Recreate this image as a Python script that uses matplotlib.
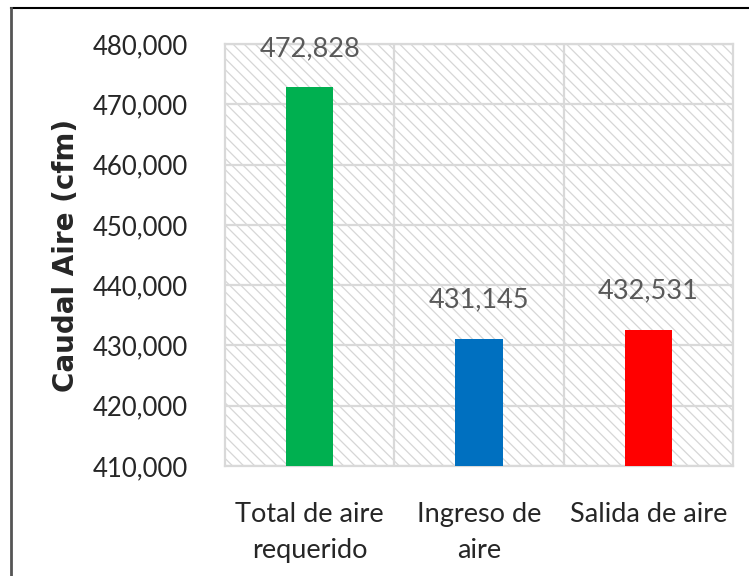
import matplotlib
matplotlib.use("Agg")
import matplotlib.pyplot as plt
from matplotlib.patches import Rectangle
from matplotlib.lines import Line2D
from matplotlib.ticker import FuncFormatter, MultipleLocator

categories = ["Total de aire\nrequerido", "Ingreso de\naire", "Salida de aire"]
values = [472828, 431145, 432531]
colors = ["#00B050", "#0070C0", "#FF0000"]
y_min, y_max, y_step = 410000, 480000, 10000

plt.rcParams["hatch.linewidth"] = 0.9
plt.rcParams["hatch.color"] = "#d6d6d6"

fig = plt.figure(figsize=(7.49, 5.76), dpi=100)
ax = fig.add_axes([225/749, 1-466/576, (733-225)/749, (466-44)/576])

# hatched background
bg = Rectangle((0, 0), 1, 1, transform=ax.transAxes, facecolor="white",
               edgecolor="#d6d6d6", hatch="\\\\\\", linewidth=0, zorder=0)
ax.add_patch(bg)

x = list(range(len(categories)))
ax.bar(x, values, width=0.28, color=colors, zorder=3)

ax.set_xlim(-0.5, len(categories) - 0.5)
ax.set_ylim(y_min, y_max)
ax.yaxis.set_major_locator(MultipleLocator(y_step))
ax.yaxis.set_major_formatter(FuncFormatter(lambda v, p: f"{int(v):,}"))

ax.grid(axis="y", color="#d9d9d9", linewidth=1.6, zorder=1)
for b in [i + 0.5 for i in x[:-1]]:
    ax.axvline(b, color="#d9d9d9", linewidth=1.6, zorder=1)

for s in ax.spines.values():
    s.set_color("#d9d9d9")
    s.set_linewidth(1.6)

ax.set_xticks(x)
ax.set_xticklabels(categories, fontsize=19.5, color="#262626", family="Lato",
                   linespacing=1.55)
ax.tick_params(axis="both", length=0)
ax.tick_params(axis="x", pad=26)
ax.tick_params(axis="y", pad=27)
for lab in ax.get_yticklabels():
    lab.set_fontsize(18.5)
    lab.set_family("Lato")
    lab.set_color("#262626")

for xi, v in zip(x, values):
    ax.annotate(f"{v:,}", (xi, v), xytext=(0, 28), textcoords="offset points",
                ha="center", va="center", fontsize=19.5, color="#595959",
                family="Lato", zorder=4)

ax.set_ylabel("Caudal Aire (cfm)", fontsize=20, fontweight="bold",
              family="DejaVu Sans", color="#262626")
ax.yaxis.set_label_coords(-0.285, 0.5)

# figure border (top and left)
fig.add_artist(Line2D([11/749, 1], [1-8/576, 1-8/576], color="black",
                      linewidth=1.5, transform=fig.transFigure))
fig.add_artist(Line2D([11/749, 11/749], [0, 1-8/576], color="#555555",
                      linewidth=2.0, transform=fig.transFigure))

fig.savefig("out.png", dpi=100)
